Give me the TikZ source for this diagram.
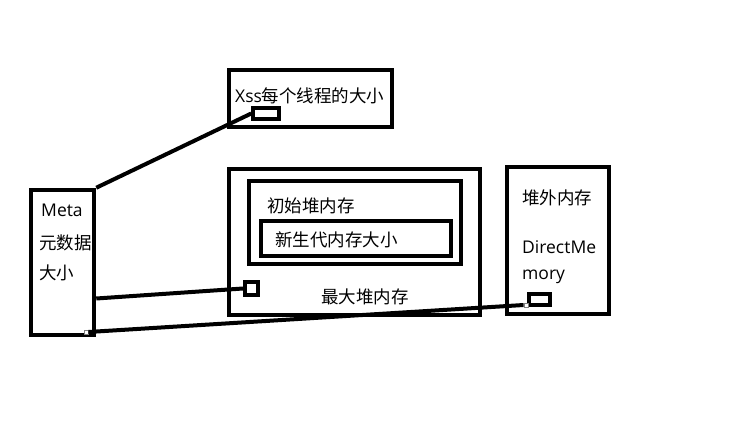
\documentclass[tikz,border=0pt]{standalone}
\usepackage{fontspec}
\setmainfont{Noto Sans CJK SC}
\newfontfamily\lat{Open Sans}
\usepackage{tikz}
\usetikzlibrary{calc}

\begin{document}
\begin{tikzpicture}[x=1pt,y=-1pt,
    box/.style={draw,line width=4.5pt,inner sep=0pt},
    knob/.style={draw,line width=3.5pt,inner sep=0pt},
    dot/.style={draw=black!50,fill=white,line width=0.8pt,inner sep=0pt,minimum size=4pt},
    lbl/.style={anchor=west,inner sep=0pt,font=\fontsize{17.5}{20}\selectfont},
    link/.style={line width=4pt}]
    \fill[white] (0,0) rectangle (740,431);
    \useasboundingbox (0,0) rectangle (740,431);
    % boxes
    \node [box,minimum width=163pt,minimum height=57pt] (xss) at (310.5,98.5) {};
    \node [knob,minimum width=26pt,minimum height=11pt] (xssk) at (266,113.5) {};
    \node [box,minimum width=63pt,minimum height=145pt] (meta) at (62.5,262.5) {};
    \node [box,minimum width=251pt,minimum height=146pt] (heap) at (354.5,242) {};
    \node [box,minimum width=212pt,minimum height=83pt] (init) at (355,222.5) {};
    \node [box,minimum width=190pt,minimum height=35pt] (young) at (356,238.5) {};
    \node [knob,line width=4pt,minimum width=13pt,minimum height=13pt] (heapk) at (251.5,288.5) {};
    \node [box,minimum width=102pt,minimum height=147pt] (direct) at (558,240.5) {};
    \node [knob,minimum width=21pt,minimum height=11pt] (directk) at (539.5,299.5) {};
    % texts
    \node [lbl] (xsst) at (235,96) {{\lat Xss}每个线程的大小};
    \node [lbl] (metat) at (41,210) {\lat Meta};
    \node [lbl] (metat2) at (39,243) {元数据};
    \node [lbl] (metat3) at (39,273) {大小};
    \node [lbl] (initt) at (267,206) {初始堆内存};
    \node [lbl] (youngt) at (275,240) {新生代内存大小};
    \node [lbl] (heapt) at (321,297) {最大堆内存};
    \node [lbl] (directt) at (522,198) {堆外内存};
    \node [lbl] (directt2) at (522,247) {\lat DirectMe};
    \node [lbl] (directt3) at (522,277) {\lat mory};
    % links
    \draw [link] (meta.north east) -- (xssk.west);
    \draw [link] ([yshift=-36pt]meta.east) -- (heapk.west);
    \node [dot] (metad) at (86,332) {};
    \node [dot] (directd) at (526,305) {};
    \draw [link] (metad.east) -- (directd.west);
\end{tikzpicture}
\end{document}
